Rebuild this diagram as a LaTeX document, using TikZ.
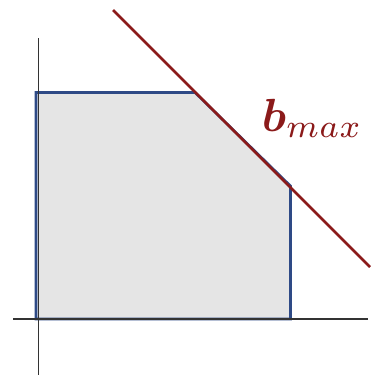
\documentclass[tikz,border=0pt]{standalone}
\usepackage{bm}
\definecolor{bred}{HTML}{8B1A1A}
\definecolor{pblue}{HTML}{2E4A86}
\definecolor{pgray}{HTML}{E5E5E5}
\definecolor{axgray}{HTML}{333333}
\tikzset{
  axisline/.style={draw=axgray, line width=1.4pt},
  region/.style={fill=pgray, draw=pblue, line width=2.6pt, line join=miter},
  bound/.style={draw=bred, line width=2.6pt},
  lbl/.style={text=bred, inner sep=0pt, anchor=base west, scale=4.65}
}
\begin{document}
\begin{tikzpicture}[x=1pt,y=-1pt]
\useasboundingbox (0,0) rectangle (370,375);
% coordinates
\coordinate (p1) at (36,92.5);
\coordinate (p2) at (195,92.5);
\coordinate (p3) at (290.5,186);
\coordinate (p4) at (290.5,319);
\coordinate (p5) at (36,319);
\coordinate (yt) at (38.5,38);
\coordinate (yb) at (38.5,375);
\coordinate (xl) at (13,319);
\coordinate (xr) at (368,319);
\coordinate (rt) at (113,10);
\coordinate (rb) at (370,267);
% region
\path[region] (p1) -- (p2) -- (p3) -- (p4) -- (p5) -- cycle;
% axes
\draw[axisline] (yt) -- (yb);
\draw[axisline] (xl) -- (xr);
% bound line
\draw[bound] (rt) -- (rb);
% label
\node[lbl] (bmax) at (261,131) {$\bm{b}_{max}$};
\end{tikzpicture}
\end{document}
